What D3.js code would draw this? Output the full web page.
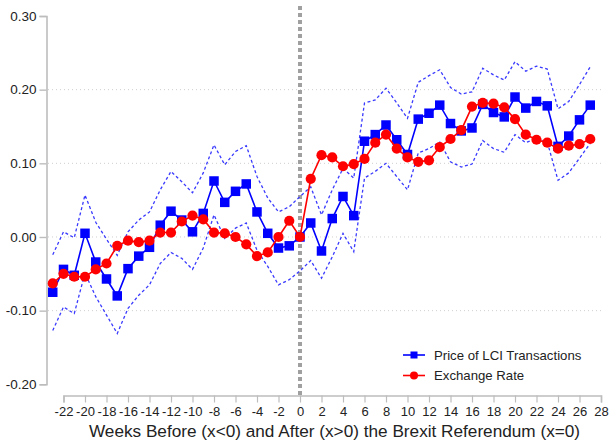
<!DOCTYPE html>
<html>
<head>
<meta charset="utf-8">
<script src="https://cdn.jsdelivr.net/npm/d3@7"></script>
<style>
  html, body { margin: 0; padding: 0; background: #fff; }
  svg { display: block; }
  text { font-family: "Liberation Sans", Arial, sans-serif; fill: #222; }
</style>
</head>
<body>
<svg id="chart" width="610" height="441"></svg>
<script>
// Weeks relative to the referendum (x = 0)
const weeks = [-23,-22,-21,-20,-19,-18,-17,-16,-15,-14,-13,-12,-11,-10,-9,-8,-7,-6,-5,-4,-3,-2,-1,
  0,1,2,3,4,5,6,7,8,9,10,11,12,13,14,15,16,17,18,19,20,21,22,23,24,25,26,27];

// Price of LCI transactions (point estimates)
const priceLCI = [-0.075,-0.044,-0.052,0.005,-0.034,-0.057,-0.080,-0.043,-0.026,-0.014,0.016,0.035,0.023,
  0.007,0.032,0.076,0.047,0.062,0.072,0.034,0.005,-0.015,-0.012,0.000,0.019,-0.019,0.025,0.055,0.029,
  0.130,0.139,0.152,0.132,0.112,0.160,0.168,0.179,0.154,0.144,0.148,0.180,0.169,0.163,0.190,0.175,
  0.184,0.178,0.123,0.137,0.159,0.179];

// Upper and lower confidence bounds for the LCI price
const priceUpper = [-0.024,0.007,-0.001,0.057,0.020,-0.003,-0.025,0.007,0.023,0.034,0.064,0.089,0.075,
  0.060,0.087,0.125,0.098,0.116,0.124,0.082,0.053,0.034,0.041,0.055,0.068,0.030,0.064,0.093,0.080,
  0.182,0.186,0.202,0.182,0.161,0.210,0.219,0.227,0.203,0.194,0.197,0.229,0.220,0.213,0.238,0.225,
  0.232,0.228,0.174,0.184,0.207,0.231];
const priceLower = [-0.127,-0.095,-0.104,-0.049,-0.081,-0.106,-0.131,-0.097,-0.079,-0.065,-0.036,-0.021,-0.029,
  -0.044,-0.015,0.030,-0.002,0.012,0.019,-0.018,-0.040,-0.065,-0.058,-0.046,-0.032,-0.056,-0.027,0.005,-0.020,
  0.080,0.089,0.100,0.082,0.064,0.114,0.120,0.129,0.102,0.095,0.099,0.131,0.120,0.115,0.139,0.128,
  0.134,0.129,0.077,0.087,0.107,0.127];

// Exchange rate
const exchangeRate = [-0.063,-0.050,-0.054,-0.054,-0.044,-0.036,-0.012,-0.005,-0.007,-0.005,0.006,0.006,0.021,
  0.029,0.024,0.006,0.005,0.000,-0.010,-0.026,-0.021,0.000,0.022,0.000,0.079,0.111,0.108,0.096,0.099,
  0.106,0.128,0.139,0.120,0.108,0.102,0.104,0.122,0.133,0.145,0.177,0.182,0.181,0.176,0.160,0.139,
  0.132,0.128,0.120,0.124,0.126,0.133];

// Axis ticks
const xTicks = [-22,-20,-18,-16,-14,-12,-10,-8,-6,-4,-2,0,2,4,6,8,10,12,14,16,18,20,22,24,26,28];
const yTicks = [-0.2,-0.1,0.0,0.1,0.2,0.3];
const yTickLabels = ["-0.20","-0.10","0.00","0.10","0.20","0.30"];
const gridLevels = [-0.1,0.0,0.1,0.2];

const seriesNames = ["Price of LCI Transactions", "Exchange Rate"];

const svg = d3.select("#chart");

const x = d3.scaleLinear().domain([-22, 28]).range([63.5, 601]);
const y = d3.scaleLinear().domain([-0.2, 0.3]).range([384.3, 16]);

const axisColor = "#bdbdbd";

// Horizontal dotted grid
svg.append("g").selectAll("line").data(gridLevels).join("line")
  .attr("x1", 48).attr("x2", 602)
  .attr("y1", d => y(d)).attr("y2", d => y(d))
  .attr("stroke", "#cfcfcf").attr("stroke-width", 1)
  .attr("stroke-dasharray", "1,3");

// Y axis
const yAxis = svg.append("g")
  .attr("transform", "translate(46.5,0)")
  .call(d3.axisLeft(y).tickValues(yTicks).tickSizeOuter(0).tickSize(7).tickPadding(3)
    .tickFormat((d, i) => yTickLabels[i]));
yAxis.select(".domain").attr("stroke", axisColor).attr("stroke-width", 1.6);
yAxis.selectAll(".tick line").attr("stroke", axisColor).attr("stroke-width", 1.4);
yAxis.selectAll(".tick text").style("font-size", "13.5px").attr("fill", "#222")
  .style("font-family", "'Liberation Sans', Arial, sans-serif");

// X axis
const xAxis = svg.append("g")
  .attr("transform", "translate(0,395.5)")
  .call(d3.axisBottom(x).tickValues(xTicks).tickSizeOuter(0).tickSize(7).tickPadding(4)
    .tickFormat(d => String(d)));
xAxis.select(".domain").attr("stroke", axisColor).attr("stroke-width", 1.6);
xAxis.selectAll(".tick line").attr("stroke", axisColor).attr("stroke-width", 1.2);
xAxis.selectAll(".tick text").style("font-size", "13px").attr("fill", "#222")
  .style("font-family", "'Liberation Sans', Arial, sans-serif");

// X axis title
svg.append("text")
  .attr("x", 334.5).attr("y", 437)
  .attr("text-anchor", "middle")
  .style("font-size", "17.2px")
  .text("Weeks Before (x<0) and After (x>0) the Brexit Referendum (x=0)");

// Referendum marker at x = 0
svg.append("line")
  .attr("x1", x(0)).attr("x2", x(0))
  .attr("y1", 6).attr("y2", 395)
  .attr("stroke", "#a0a0a0").attr("stroke-width", 4)
  .attr("stroke-dasharray", "4,3");

const lineOf = vals => d3.line().x((d, i) => x(weeks[i])).y(d => y(d))(vals);

// Confidence band
[priceUpper, priceLower].forEach(b => {
  svg.append("path").attr("d", lineOf(b))
    .attr("fill", "none").attr("stroke", "#3a3aff").attr("stroke-width", 1.3)
    .attr("stroke-dasharray", "3,2.5");
});

// LCI price series
svg.append("path").attr("d", lineOf(priceLCI))
  .attr("fill", "none").attr("stroke", "#0000ff").attr("stroke-width", 1.6);
const sq = 9.5;
svg.append("g").selectAll("rect").data(priceLCI).join("rect")
  .attr("x", (d, i) => x(weeks[i]) - sq / 2).attr("y", d => y(d) - sq / 2)
  .attr("width", sq).attr("height", sq).attr("fill", "#0000ff");

// Exchange rate series
svg.append("path").attr("d", lineOf(exchangeRate))
  .attr("fill", "none").attr("stroke", "#ff0000").attr("stroke-width", 1.6);
svg.append("g").selectAll("circle").data(exchangeRate).join("circle")
  .attr("cx", (d, i) => x(weeks[i])).attr("cy", d => y(d))
  .attr("r", 5.1).attr("fill", "#ff0000");

// Legend
const legend = svg.append("g");
const legY = [355, 375.5];
const legColors = ["#0000ff", "#ff0000"];
seriesNames.forEach((name, i) => {
  legend.append("line")
    .attr("x1", 403).attr("x2", 425).attr("y1", legY[i]).attr("y2", legY[i])
    .attr("stroke", legColors[i]).attr("stroke-width", 1.6);
  if (i === 0) {
    legend.append("rect").attr("x", 410.5).attr("y", legY[i] - 3.5)
      .attr("width", 7).attr("height", 7).attr("fill", legColors[i]);
  } else {
    legend.append("circle").attr("cx", 414).attr("cy", legY[i]).attr("r", 4)
      .attr("fill", legColors[i]);
  }
  legend.append("text")
    .attr("x", 434).attr("y", legY[i] + 4.5)
    .style("font-size", "13.2px")
    .text(name);
});
</script>
</body>
</html>
